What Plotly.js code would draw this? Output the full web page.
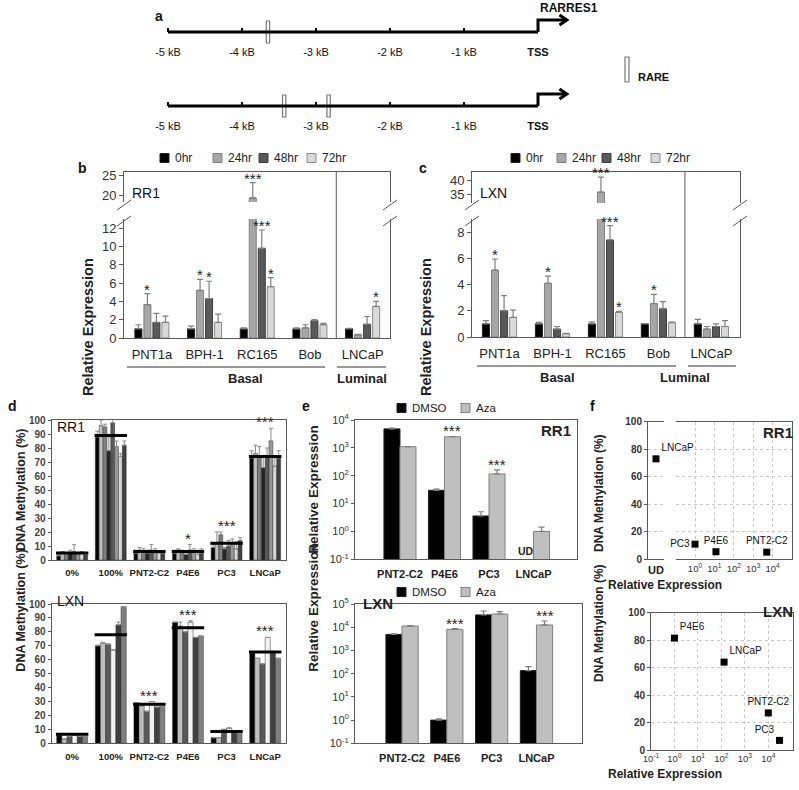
<!DOCTYPE html>
<html><head><meta charset="utf-8">
<script src="https://cdn.plot.ly/plotly-3.0.1.min.js"></script>
<style>html,body{margin:0;padding:0;background:#fff}</style>
</head><body><div id="chart" style="width:799px;height:790px"></div>
<script>
// ================= DATA =================
// Panel a: promoter maps
const kbTicks = [-5, -4, -3, -2, -1, 0];
const kbTickText = ['-5 kB', '-4 kB', '-3 kB', '-2 kB', '-1 kB', '<b>TSS</b>'];
const geneNames = ['RARRES1', 'LXN'];
const rareRARRES1 = [-3.65];
const rareLXN = [-3.43, -2.83];

// Panels b, c: time course
const timeSeries = ['0hr', '24hr', '48hr', '72hr'];
const cellLinesBC = ['PNT1a', 'BPH-1', 'RC165', 'Bob', 'LNCaP'];
const rr1_0hr  = [1.0, 1.0, 1.0, 1.0, 1.0];
const rr1_24hr = [3.65, 5.2, 19.3, 1.1, 0.35];
const rr1_48hr = [1.7, 4.3, 9.8, 1.9, 1.5];
const rr1_72hr = [1.7, 1.7, 5.6, 1.45, 3.45];
const rr1_0hr_err  = [0.45, 0.3, 0.1, 0.1, 0.05];
const rr1_24hr_err = [1.2, 1.2, 3.8, 0.35, 0.05];
const rr1_48hr_err = [1.0, 1.9, 2.0, 0.1, 0.85];
const rr1_72hr_err = [0.7, 0.9, 1.0, 0.15, 0.55];
const rr1_0hr_sig  = ['', '', '', '', ''];
const rr1_24hr_sig = ['*', '*', '***', '', ''];
const rr1_48hr_sig = ['', '*', '***', '', ''];
const rr1_72hr_sig = ['', '', '*', '', '*'];

const lxn_0hr  = [1.0, 1.0, 1.0, 1.0, 1.0];
const lxn_24hr = [5.1, 4.1, 35.9, 2.55, 0.6];
const lxn_48hr = [2.0, 0.6, 7.4, 2.15, 0.8];
const lxn_72hr = [1.5, 0.25, 1.9, 1.1, 0.8];
const lxn_0hr_err  = [0.25, 0.12, 0.15, 0.02, 0.35];
const lxn_24hr_err = [0.85, 0.55, 5.2, 0.7, 0.2];
const lxn_48hr_err = [1.15, 0.2, 1.1, 0.55, 0.2];
const lxn_72hr_err = [0.55, 0.03, 0.05, 0.03, 0.45];
const lxn_0hr_sig  = ['', '', '', '', ''];
const lxn_24hr_sig = ['*', '*', '***', '*', ''];
const lxn_48hr_sig = ['', '', '***', '', ''];
const lxn_72hr_sig = ['', '', '*', '', ''];

// Panel d: DNA methylation per CpG (groups)
const methCats = ['0%', '100%', 'PNT2-C2', 'P4E6', 'PC3', 'LNCaP'];
const rr1Meth_0    = [3, 5, 4, 5, 6, 4, 5, 4];
const rr1Meth_100  = [88, 96, 95, 78, 98, 81, 74, 82];
const rr1Meth_PNT  = [5, 7, 6, 5, 7, 6, 5, 5];
const rr1Meth_P4E6 = [5, 7, 6, 4, 7, 6, 4, 5];
const rr1Meth_PC3  = [9, 12, 18, 8, 10, 12, 8, 14];
const rr1Meth_LNC  = [73, 76, 74, 66, 74, 85, 67, 73];
const rr1MethErr_0    = [1, 1, 1, 2, 5, 1, 1, 1];
const rr1MethErr_100  = [4, 4, 2, 10, 3, 4, 2, 3];
const rr1MethErr_PNT  = [2, 2, 2, 2, 4, 2, 1, 1];
const rr1MethErr_P4E6 = [2, 1, 1, 2, 4, 2, 3, 3];
const rr1MethErr_PC3  = [2, 8, 2, 1, 4, 3, 5, 2];
const rr1MethErr_LNC  = [5, 6, 7, 8, 6, 9, 6, 5];
const rr1MethMean = [5, 89, 6, 6, 12, 74];
const rr1MethSig  = ['', '', '', '*', '***', '***'];

const lxnMeth_0    = [6, 3, 5, 6, 5, 5];
const lxnMeth_100  = [70, 72, 71, 67, 85, 98];
const lxnMeth_PNT  = [29, 27, 23, 30, 26, 26.5];
const lxnMeth_P4E6 = [87, 84, 80, 87, 76, 77];
const lxnMeth_PC3  = [4, 4, 10, 11, 8, 7];
const lxnMeth_LNC  = [65, 61, 57, 76, 65, 61];
const lxnMethErr_0    = [0, 0, 0, 0, 0, 0];
const lxnMethErr_100  = [0.5, 0.5, 0.5, 0, 2, 0];
const lxnMethErr_PNT  = [0, 0, 0, 0, 0, 0];
const lxnMethErr_P4E6 = [0, 3, 0, 1, 0, 0];
const lxnMethErr_PC3  = [0, 0, 0, 0, 0, 0];
const lxnMethErr_LNC  = [0, 0, 0, 0, 0, 0];
const lxnMethMean = [6.5, 78, 28, 83, 8.5, 65.5];
const lxnMethSig  = ['', '', '***', '***', '', '***'];

// Panel e: Aza treatment
const eCats = ['PNT2-C2', 'P4E6', 'PC3', 'LNCaP'];
const treatNames = ['DMSO', 'Aza'];
const rr1DMSO = [4800, 30, 3.6, null];
const rr1DMSOErr = [300, 3, 1.5, 0];
const rr1Aza = [1100, 2500, 116, 1.0];
const rr1AzaErr = [0, 60, 46, 0.43];
const rr1AzaSig = ['', '***', '***', ''];
const rr1DMSONote = ['', '', '', 'UD'];
const lxnDMSO = [4900, 1.0, 34000, 135];
const lxnDMSOErr = [300, 0.12, 16000, 65];
const lxnAza = [11200, 8100, 37000, 12500];
const lxnAzaErr = [600, 600, 10000, 6000];
const lxnAzaSig = ['', '***', '', '***'];

// Panel f: methylation vs expression
const fRR1UDLabels = ['LNCaP'];
const fRR1UDMeth = [73];
const fRR1Labels = ['PC3', 'P4E6', 'PNT2-C2'];
const fRR1Expr = [1.0, 12, 5000];
const fRR1Meth = [11, 5.5, 5.2];
const fLXNLabels = ['P4E6', 'LNCaP', 'PNT2-C2', 'PC3'];
const fLXNExpr = [1.0, 130, 10000, 30000];
const fLXNMeth = [81.5, 64, 27, 7];

// ================= HELPERS =================
const FONT = 'Liberation Sans, Arial, Helvetica, sans-serif';
const W = 799, H = 790;
const X = p => p / W;
const Y = p => 1 - p / H;
const dom = (a, b) => [a / W, b / W];
const vdom = (t, b) => [1 - b / H, 1 - t / H];
const LC = '#595959';
const data = [], annotations = [], shapes = [];
const layout = {
  width: W, height: H, margin: {l: 0, r: 0, t: 0, b: 0}, showlegend: false,
  paper_bgcolor: '#fff', plot_bgcolor: 'rgba(0,0,0,0)',
  font: {family: FONT, color: '#222'}, hovermode: false, barmode: 'overlay'
};
function ax(o) {
  return Object.assign({showgrid: false, zeroline: false, fixedrange: true, showline: false,
    ticks: '', linecolor: LC, linewidth: 1, tickcolor: LC,
    tickfont: {family: FONT, size: 11, color: '#333'}}, o);
}
function note(o) {
  return Object.assign({showarrow: false, font: {family: FONT, size: 12, color: '#222'}}, o);
}
function pline(x0, y0, x1, y1, w, c) {
  shapes.push({type: 'line', xref: 'paper', yref: 'paper', x0: X(x0), y0: Y(y0), x1: X(x1), y1: Y(y1),
    line: {color: c || LC, width: w || 1}});
}
// key (legend) drawn as swatches + labels
function key(names, fills, edges, swX, txX, yc, size) {
  names.forEach((nm, i) => {
    shapes.push({type: 'rect', xref: 'paper', yref: 'paper', x0: X(swX[i]), x1: X(swX[i] + 9), y0: Y(yc + 4.5), y1: Y(yc - 4.5),
      fillcolor: fills[i], line: {color: edges[i], width: 1}});
    annotations.push(note({xref: 'paper', yref: 'paper', x: X(txX[i]), y: Y(yc), xanchor: 'left', yanchor: 'middle', text: nm,
      font: {family: FONT, size: size, color: '#222'}}));
  });
}
const zeros = a => a.map(() => 0);

// ================= PANEL a =================
const arrowRise = 12, arrowEndKb = 0.39, headLenKb = 0.1, headHalf = 5, rareH = 22;
[['x', 'y', 32, rareRARRES1, geneNames[0], 24], ['x2', 'y2', 106, rareLXN, geneNames[1], 26]].forEach((g, k) => {
  const [xa, ya, pos, sites, name, labY] = g;
  const xn = k === 0 ? 'xaxis' : 'xaxis2', yn = k === 0 ? 'yaxis' : 'yaxis2';
  layout[xn] = ax({domain: dom(150, 600), range: [-5 - 18 / 74, -5 + 432 / 74], anchor: 'free', position: Y(pos),
    tickvals: kbTicks, ticktext: kbTickText, ticks: 'inside', ticklen: 4, tickwidth: 1.5, tickcolor: '#000',
    ticklabelstandoff: 12, tickfont: {family: FONT, size: 11, color: '#111'}});
  layout[yn] = ax({domain: vdom(pos - 24, pos + 16), range: [-16, 24], visible: false, anchor: xa});
  data.push({type: 'scatter', mode: 'lines', x: [kbTicks[0], kbTicks[5]], y: [0, 0], xaxis: xa, yaxis: ya,
    line: {color: '#000', width: 3}, hoverinfo: 'skip'});
  data.push({type: 'scatter', mode: 'lines', x: [kbTicks[5], kbTicks[5], arrowEndKb], y: [0, arrowRise, arrowRise],
    xaxis: xa, yaxis: ya, line: {color: '#000', width: 3}, hoverinfo: 'skip'});
  data.push({type: 'scatter', mode: 'lines', x: [arrowEndKb - headLenKb, arrowEndKb, arrowEndKb - headLenKb],
    y: [arrowRise + headHalf, arrowRise, arrowRise - headHalf], xaxis: xa, yaxis: ya,
    line: {color: '#000', width: 3}, hoverinfo: 'skip'});
  data.push({type: 'bar', x: sites, y: sites.map(() => rareH), base: -rareH / 2, width: 0.045, offset: -0.0225,
    xaxis: xa, yaxis: ya, marker: {color: '#fff', line: {color: '#777', width: 1.2}}, hoverinfo: 'skip'});
  annotations.push(note({xref: xa, yref: ya, x: kbTicks[5], y: labY, xanchor: 'left', yanchor: 'middle', text: '<b>' + name + '</b>',
    font: {family: FONT, size: 12, color: '#111'}}));
});
shapes.push({type: 'rect', xref: 'paper', yref: 'paper', x0: X(625), x1: X(629), y0: Y(82), y1: Y(57),
  line: {color: '#777', width: 1.2}, fillcolor: '#fff'});
annotations.push(note({xref: 'paper', yref: 'paper', x: X(636), y: Y(69), xanchor: 'left', text: '<b>RARE</b>',
  font: {family: FONT, size: 11, color: '#111'}}));

// ================= PANELS b, c =================
const tColors = ['#000000', '#a6a6a6', '#595959', '#d9d9d9'];
const tLines = ['#222222', '#808080', '#3f3f3f', '#8c8c8c'];
const bW = 0.133, bP = 0.171;
const tOff = s => -2 * bP + s * bP + (bP - bW) / 2;
const catIdx = cellLinesBC.map((_, i) => i);

function timePanel(c) {
  const xl = 'x' + c.n, yl = 'y' + c.n, xu = 'x' + (c.n + 1), yu = 'y' + (c.n + 1);
  layout['xaxis' + c.n] = ax({domain: dom(c.left, c.right), range: c.xr, anchor: yl, tickvals: catIdx, ticktext: cellLinesBC,
    showline: true, ticklabelstandoff: 4, tickfont: {family: FONT, size: 13, color: '#222'}});
  layout['yaxis' + c.n] = ax({domain: vdom(c.lowTop, c.bottom), range: [0, c.lowMax], anchor: xl, tickvals: c.lowTicks,
    showline: true, mirror: true, ticks: 'outside', ticklen: 4, tickfont: {family: FONT, size: 13, color: '#333'}});
  layout['xaxis' + (c.n + 1)] = ax({domain: dom(c.left, c.right), range: c.xr, anchor: yu, side: 'top', showline: true, showticklabels: false});
  layout['yaxis' + (c.n + 1)] = ax({domain: vdom(c.top, c.upBottom), range: c.upRange, anchor: xu, tickvals: c.upTicks,
    showline: true, mirror: true, ticks: 'outside', ticklen: 4, tickfont: {family: FONT, size: 13, color: '#333'}});
  [[xl, yl], [xu, yu]].forEach(([xa, ya]) => {
    c.vals.forEach((v, s) => {
      data.push({type: 'bar', name: timeSeries[s], x: catIdx, y: v, width: bW, offset: tOff(s), xaxis: xa, yaxis: ya,
        marker: {color: tColors[s], line: {color: tLines[s], width: 1}},
        error_y: {type: 'data', array: c.errs[s], arrayminus: zeros(v), symmetric: false, color: '#7f7f7f', thickness: 1.2, width: 3},
        hoverinfo: 'skip'});
    });
  });
  c.sigs.forEach((sg, s) => sg.forEach((t, i) => {
    if (!t) return;
    const topv = c.vals[s][i] + c.errs[s][i];
    const up = topv > c.lowMax;
    annotations.push(note({xref: up ? xu : xl, yref: up ? yu : yl, x: i + tOff(s) + bW / 2, y: topv, yanchor: 'bottom',
      yshift: -6, text: t, font: {family: FONT, size: 15, color: '#222'}}));
  }));
  shapes.push({type: 'line', xref: xl, yref: 'paper', x0: 3.5, x1: 3.5, y0: Y(c.bottom), y1: Y(c.top), line: {color: LC, width: 1}});
  [c.left, c.right].forEach(xp => {
    pline(xp - 7, 210, xp + 7, 200, 1);
    pline(xp - 7, 226, xp + 7, 216, 1);
  });
  pline(c.basal[0], c.grpY, c.basal[1], c.grpY, 1, '#333');
  pline(c.lum[0], c.grpY, c.lum[1], c.grpY, 1, '#333');
  annotations.push(note({xref: 'paper', yref: 'paper', x: X((c.basal[0] + c.basal[1]) / 2), y: Y(c.grpY + 11), text: '<b>Basal</b>',
    font: {family: FONT, size: 13, color: '#222'}}));
  annotations.push(note({xref: 'paper', yref: 'paper', x: X((c.lum[0] + c.lum[1]) / 2), y: Y(c.grpY + 11), text: '<b>Luminal</b>',
    font: {family: FONT, size: 13, color: '#222'}}));
  annotations.push(note({xref: 'paper', yref: 'paper', x: X(c.left - 46), y: Y(256), textangle: -90, text: '<b>Relative Expression</b>',
    font: {family: FONT, size: 14.5, color: '#222'}}));
  annotations.push(note({xref: 'paper', yref: 'paper', x: X(c.left + 6), y: Y(183), xanchor: 'left', text: c.label,
    font: {family: FONT, size: 14, color: '#111'}}));
  key(timeSeries, tColors, tLines, c.keySw, c.keyTx, 158, 12);
}
timePanel({n: 3, left: 124, right: 390, top: 172, upBottom: 202, lowTop: 219, bottom: 338, xr: [-0.53, 4.52],
  lowMax: 13, lowTicks: [0, 2, 4, 6, 8, 10, 12], upRange: [18.3, 25.75], upTicks: [20, 25],
  vals: [rr1_0hr, rr1_24hr, rr1_48hr, rr1_72hr], errs: [rr1_0hr_err, rr1_24hr_err, rr1_48hr_err, rr1_72hr_err],
  sigs: [rr1_0hr_sig, rr1_24hr_sig, rr1_48hr_sig, rr1_72hr_sig],
  keySw: [160, 213, 259, 307], keyTx: [173, 226, 272, 320],
  basal: [127, 325], lum: [337, 386], grpY: 367, label: 'RR1'});
timePanel({n: 5, left: 472, right: 740, top: 172, upBottom: 203, lowTop: 219, bottom: 337, xr: [-0.52, 4.54],
  lowMax: 9.0, lowTicks: [0, 2, 4, 6, 8], upRange: [32.1, 42.9], upTicks: [35, 40],
  vals: [lxn_0hr, lxn_24hr, lxn_48hr, lxn_72hr], errs: [lxn_0hr_err, lxn_24hr_err, lxn_48hr_err, lxn_72hr_err],
  sigs: [lxn_0hr_sig, lxn_24hr_sig, lxn_48hr_sig, lxn_72hr_sig],
  keySw: [511, 557, 602, 651], keyTx: [524, 570, 615, 664],
  basal: [477, 676], lum: [688, 736], grpY: 366, label: 'LXN'});

// ================= PANEL d =================
const mIdx = methCats.map((_, i) => i);
const rr1Groups = [rr1Meth_0, rr1Meth_100, rr1Meth_PNT, rr1Meth_P4E6, rr1Meth_PC3, rr1Meth_LNC];
const rr1GroupErr = [rr1MethErr_0, rr1MethErr_100, rr1MethErr_PNT, rr1MethErr_P4E6, rr1MethErr_PC3, rr1MethErr_LNC];
const lxnGroups = [lxnMeth_0, lxnMeth_100, lxnMeth_PNT, lxnMeth_P4E6, lxnMeth_PC3, lxnMeth_LNC];
const lxnGroupErr = [lxnMethErr_0, lxnMethErr_100, lxnMethErr_PNT, lxnMethErr_P4E6, lxnMethErr_PC3, lxnMethErr_LNC];
const rr1CpgColors = ['#000000', '#bfbfbf', '#7f7f7f', '#262626', '#595959', '#999999', '#d9d9d9', '#404040'];
const lxnCpgColors = ['#000000', '#bfbfbf', '#595959', '#f2f2f2', '#404040', '#7f7f7f'];

function methPanel(n, top, bottom, groups, gerr, means, sigs, colors, label) {
  const xa = 'x' + n, ya = 'y' + n;
  layout['xaxis' + n] = ax({domain: dom(51.7, 286), range: [-0.53, 5.54], anchor: ya, tickvals: mIdx, ticktext: methCats,
    showline: true, mirror: true, ticklabelstandoff: 4, tickfont: {family: FONT, size: 9.5, color: '#222', weight: 'bold'}});
  layout['yaxis' + n] = ax({domain: vdom(top, bottom), range: [0, 100], dtick: 10, anchor: xa, showline: true, mirror: true,
    ticks: 'outside', ticklen: 3, tickfont: {family: FONT, size: 10, color: '#444', weight: 'bold'}});
  const nS = groups[0].length, bw = 0.8 / nS;
  for (let s = 0; s < nS; s++) {
    const v = groups.map(g => g[s]), e = gerr.map(g => g[s]);
    data.push({type: 'bar', x: mIdx, y: v, width: bw, offset: -0.4 + s * bw, xaxis: xa, yaxis: ya,
      marker: {color: colors[s], line: {color: '#333', width: 0.5}},
      error_y: {type: 'data', array: e, arrayminus: zeros(e), symmetric: false, color: '#8c8c8c', thickness: 1, width: 2},
      hoverinfo: 'skip'});
  }
  const mx = [], my = [];
  means.forEach((m, i) => { mx.push(i - 0.42, i + 0.42, null); my.push(m, m, null); });
  data.push({type: 'scatter', mode: 'lines', x: mx, y: my, xaxis: xa, yaxis: ya, line: {color: '#000', width: 3},
    hoverinfo: 'skip'});
  sigs.forEach((t, i) => {
    if (!t) return;
    const mxv = Math.max(...groups[i].map((v, s) => v + gerr[i][s]));
    annotations.push(note({xref: xa, yref: ya, x: i, y: mxv, yanchor: 'bottom', yshift: -4, text: t,
      font: {family: FONT, size: 15, color: '#222'}}));
  });
  annotations.push(note({xref: 'paper', yref: 'paper', x: X(55), y: Y(top + 7), xanchor: 'left', text: label,
    font: {family: FONT, size: 14, color: '#111'}}));
  annotations.push(note({xref: 'paper', yref: 'paper', x: X(12), y: Y((top + bottom) / 2), textangle: -90,
    text: '<b>DNA Methylation (%)</b>', font: {family: FONT, size: 12.5, color: '#222'}}));
}
methPanel(7, 420, 560, rr1Groups, rr1GroupErr, rr1MethMean, rr1MethSig, rr1CpgColors, 'RR1');
methPanel(8, 604, 743.3, lxnGroups, lxnGroupErr, lxnMethMean, lxnMethSig, lxnCpgColors, 'LXN');

// ================= PANEL e =================
const eIdx = eCats.map((_, i) => i);
const eW = 0.36;
const treatFill = ['#000000', '#bfbfbf'], treatEdge = ['#222222', '#7f7f7f'];
const logVals = [0.1, 1, 10, 100, 1000, 10000, 100000];
const logText = ['10<sup>-1</sup>', '10<sup>0</sup>', '10<sup>1</sup>', '10<sup>2</sup>', '10<sup>3</sup>', '10<sup>4</sup>', '10<sup>5</sup>'];
function azaPanel(n, left, right, top, bottom, xr, yr, dmso, dmsoE, aza, azaE, sig, keyY, label, labelX, labelAnchor) {
  const xa = 'x' + n, ya = 'y' + n;
  layout['xaxis' + n] = ax({domain: dom(left, right), range: xr, anchor: ya, tickvals: eIdx, ticktext: eCats, showline: true, mirror: true,
    ticklabelstandoff: 4, tickfont: {family: FONT, size: 11, color: '#222', weight: 'bold'}});
  layout['yaxis' + n] = ax({domain: vdom(top, bottom), type: 'log', range: yr, anchor: xa, tickvals: logVals, ticktext: logText,
    showline: true, mirror: true, ticks: 'outside', ticklen: 3, tickfont: {family: FONT, size: 11, color: '#333'}});
  [[dmso, dmsoE], [aza, azaE]].forEach(([v, e], s) => {
    data.push({type: 'bar', name: treatNames[s], x: eIdx, y: v, width: eW, offset: -eW + s * eW, xaxis: xa, yaxis: ya,
      marker: {color: treatFill[s], line: {color: treatEdge[s], width: 1}},
      error_y: {type: 'data', array: e, arrayminus: zeros(e), symmetric: false, color: '#7f7f7f', thickness: 1.2, width: 3},
      hoverinfo: 'skip'});
  });
  sig.forEach((t, i) => {
    if (!t) return;
    annotations.push(note({xref: xa, yref: ya, x: i + eW / 2, y: Math.log10(aza[i] + azaE[i]), yanchor: 'bottom', yshift: -5, text: t,
      font: {family: FONT, size: 15, color: '#222'}}));
  });
  annotations.push(note({xref: 'paper', yref: 'paper', x: X(labelX), y: Y(top + 10), xanchor: labelAnchor, text: '<b>' + label + '</b>',
    font: {family: FONT, size: 15, color: '#222'}}));
  annotations.push(note({xref: 'paper', yref: 'paper', x: X(left - 41), y: Y((top + bottom) / 2), textangle: -90,
    text: '<b>Relative Expression</b>', font: {family: FONT, size: 13.5, color: '#222'}}));
  key(treatNames, treatFill, treatEdge, [397, 461], [410, 474], keyY, 11.5);
}
azaPanel(9, 355, 576.7, 420, 559.3, [-1.01, 3.97], [-1, 4], rr1DMSO, rr1DMSOErr, rr1Aza, rr1AzaErr, rr1AzaSig, 408, 'RR1', 573, 'right');
azaPanel(10, 355, 581.7, 604, 743.3, [-1.05, 4.01], [-1, 5], lxnDMSO, lxnDMSOErr, lxnAza, lxnAzaErr, lxnAzaSig, 592, 'LXN', 361, 'left');
rr1DMSONote.forEach((t, i) => {
  if (!t) return;
  annotations.push(note({xref: 'x9', yref: 'y9', x: i - eW / 2, y: -1, yanchor: 'bottom', text: '<b>' + t + '</b>',
    font: {family: FONT, size: 10.5, color: '#222'}}));
});

// ================= PANEL f =================
const gridDot = {showgrid: true, gridcolor: '#c8c8c8', griddash: 'dot', gridwidth: 1};
layout.xaxis11 = ax({domain: dom(648, 664), range: [-0.6, 0.6], anchor: 'y11', tickvals: [0], ticktext: ['UD'],
  showline: true, mirror: true, tickfont: {family: FONT, size: 11, color: '#222', weight: 'bold'}});
layout.yaxis11 = ax(Object.assign({domain: vdom(421.7, 559.3), range: [0, 100], dtick: 20, anchor: 'x11', showline: true,
  ticks: 'outside', ticklen: 3, tickfont: {family: FONT, size: 10, color: '#333', weight: 'bold'}}, gridDot));
layout.xaxis12 = ax(Object.assign({domain: dom(675.6, 792), type: 'log', range: [-1, 5], anchor: 'y12', tickvals: logVals.slice(1, 6),
  ticktext: logText.slice(1, 6), showline: true, mirror: true, tickfont: {family: FONT, size: 9.5, color: '#333'}}, gridDot));
layout.yaxis12 = ax(Object.assign({domain: vdom(421.7, 559.3), range: [0, 100], dtick: 20, anchor: 'x12', side: 'right',
  showline: true, showticklabels: false}, gridDot));
layout.xaxis13 = ax(Object.assign({domain: dom(651, 792.7), type: 'log', range: [-1, 5.04], anchor: 'y13', tickvals: logVals,
  ticktext: logText, showline: true, mirror: true, tickfont: {family: FONT, size: 9.5, color: '#333'}}, gridDot));
layout.yaxis13 = ax(Object.assign({domain: vdom(612.7, 750), range: [0, 100], dtick: 20, anchor: 'x13', showline: true, mirror: true,
  ticks: 'outside', ticklen: 3, tickfont: {family: FONT, size: 10, color: '#333', weight: 'bold'}}, gridDot));
const ptStyle = {symbol: 'square', size: 7, color: '#000'};
const ptFont = {family: FONT, size: 10, color: '#111'};
data.push({type: 'scatter', mode: 'markers+text', x: fRR1UDLabels.map(() => 0), y: fRR1UDMeth, text: fRR1UDLabels,
  textposition: ['top right'], textfont: ptFont, marker: ptStyle, xaxis: 'x11', yaxis: 'y11', cliponaxis: false, hoverinfo: 'skip'});
data.push({type: 'scatter', mode: 'markers+text', x: fRR1Expr, y: fRR1Meth, text: fRR1Labels,
  textposition: ['middle left', 'top center', 'top center'], textfont: ptFont, marker: ptStyle, xaxis: 'x12', yaxis: 'y12',
  cliponaxis: false, hoverinfo: 'skip'});
data.push({type: 'scatter', mode: 'markers+text', x: fLXNExpr, y: fLXNMeth, text: fLXNLabels,
  textposition: ['top right', 'top right', 'top center', 'top left'], textfont: ptFont, marker: ptStyle, xaxis: 'x13', yaxis: 'y13',
  cliponaxis: false, hoverinfo: 'skip'});
[[432, 'RR1'], [622, 'LXN']].forEach(([yy, t]) => annotations.push(note({xref: 'paper', yref: 'paper', x: X(795), y: Y(yy),
  xanchor: 'right', text: '<b>' + t + '</b>', font: {family: FONT, size: 15, color: '#222'}})));
[[493, 594], [684, 783]].forEach(([ym, yx]) => {
  annotations.push(note({xref: 'paper', yref: 'paper', x: X(608), y: Y(ym), textangle: -90, text: '<b>DNA Methylation (%)</b>',
    font: {family: FONT, size: 12, color: '#222'}}));
  annotations.push(note({xref: 'paper', yref: 'paper', x: X(724), y: Y(yx), text: '<b>Relative Expression</b>',
    font: {family: FONT, size: 12, color: '#222'}}));
});

// ================= PANEL LETTERS =================
[['a', 153, 6], ['b', 76, 158], ['c', 423, 158], ['d', 6, 406], ['e', 306, 406], ['f', 597, 406]].forEach(([t, xx, yy]) =>
  annotations.push(note({xref: 'paper', yref: 'paper', x: X(xx), y: Y(yy), text: '<b>' + t + '</b>',
    font: {family: FONT, size: 14, color: '#111'}})));

layout.annotations = annotations;
layout.shapes = shapes;
Plotly.newPlot('chart', data, layout, {displayModeBar: false, staticPlot: true});
</script>
</body></html>
